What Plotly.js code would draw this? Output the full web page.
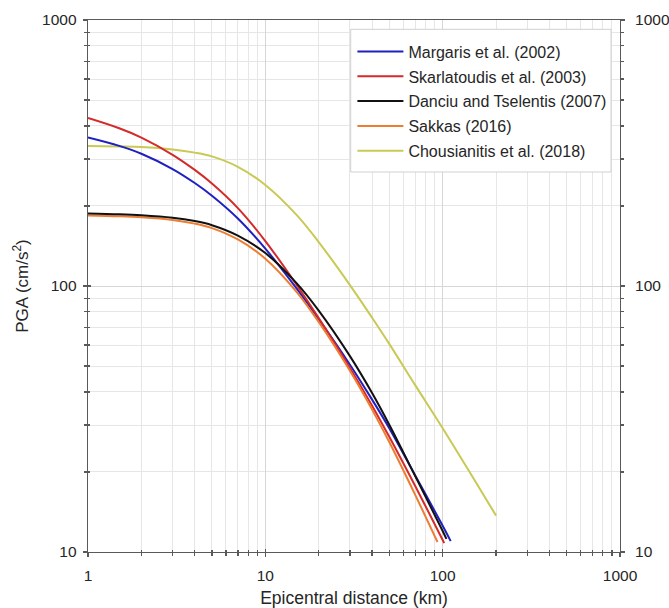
<!DOCTYPE html>
<html>
<head>
<meta charset="utf-8">
<script src="https://cdn.plot.ly/plotly-3.0.1.min.js"></script>
<style>html,body{margin:0;padding:0;background:#fff;}#chart{width:669px;height:608px;}</style>
</head>
<body>
<div id="chart"></div>
<script>
// Epicentral distance (km) and PGA (cm/s^2)
const distMargaris = [1, 1.5, 2, 3, 4, 5, 7, 10, 15, 20, 30, 40, 50, 70, 100, 111];
const pgaMargaris  = [361.6, 336.3, 314.3, 275.3, 243.9, 218.5, 179.4, 138.2, 97.9, 75.1, 50.6, 37.4, 29.2, 19.4, 12.56, 10.99];

const distSkarlatoudis = [1, 1.5, 2, 3, 4, 5, 7, 10, 15, 20, 30, 40, 50, 70, 100, 102];
const pgaSkarlatoudis  = [428.1, 391.6, 361.3, 311.4, 273.2, 242.9, 196.3, 147.6, 101.1, 75.8, 49.2, 35.5, 27.1, 17.7, 11.1, 10.8];

const distDanciu = [1, 1.5, 2, 3, 4, 5, 7, 10, 15, 20, 30, 40, 50, 70, 100, 105];
const pgaDanciu  = [187.3, 186.0, 184.4, 180.5, 175.4, 169.3, 154.7, 133.0, 102.5, 80.8, 54.5, 39.6, 30.1, 19.3, 11.99, 11.2];

const distSakkas = [1, 1.5, 2, 3, 4, 5, 7, 10, 15, 20, 30, 40, 50, 70, 93.5];
const pgaSakkas  = [184.1, 182.8, 181.2, 177.1, 171.6, 165.1, 149.6, 126.7, 95.1, 73.2, 48.0, 34.3, 25.9, 16.4, 10.9];

const distChousianitis = [1, 1.5, 2, 3, 4, 5, 7, 10, 15, 20, 30, 40, 50, 70, 100, 150, 200];
const pgaChousianitis  = [336.0, 334.6, 332.8, 326.0, 317.3, 307.1, 280.6, 239.9, 185.1, 146.3, 100.8, 76.0, 60.6, 42.4, 29.2, 18.8, 13.7];

const seriesNames = ["Margaris et al. (2002)", "Skarlatoudis et al. (2003)", "Danciu and Tselentis (2007)", "Sakkas (2016)", "Chousianitis et al. (2018)"];
const xTickVals = [1, 10, 100, 1000];
const xTickText = ["1", "10", "100", "1000"];
const yTickVals = [10, 100, 1000];
const yTickText = ["10", "100", "1000"];

const FONT = "Liberation Sans, Arial, sans-serif";
const TXT = "#262626";

function mk(x, y, name, color, rank) {
  return {
    x: x, y: y, name: name, type: "scatter", mode: "lines",
    line: {color: color, width: 2, shape: "spline", smoothing: 1},
    legendgroup: name, legendrank: rank, hoverinfo: "skip"
  };
}

const traces = [
  mk(distChousianitis, pgaChousianitis, seriesNames[4], "#c9c955", 5),
  mk(distMargaris, pgaMargaris, seriesNames[0], "#2020c0", 1),
  mk(distSkarlatoudis, pgaSkarlatoudis, seriesNames[1], "#d42a2a", 2),
  mk(distSakkas, pgaSakkas, seriesNames[3], "#ed7d31", 4),
  mk(distDanciu, pgaDanciu, seriesNames[2], "#111111", 3),
  {x: [1], y: [10], yaxis: "y2", type: "scatter", mode: "markers", marker: {opacity: 0}, showlegend: false, hoverinfo: "skip"},
  {x: [1], y: [10], xaxis: "x2", yaxis: "y3", type: "scatter", mode: "markers", marker: {opacity: 0}, showlegend: false, hoverinfo: "skip"}
];

const axLine = "#595959";
const layout = {
  width: 669, height: 608,
  margin: {l: 88, r: 49, t: 20, b: 56, pad: 0},
  paper_bgcolor: "#fff", plot_bgcolor: "#fff",
  font: {family: FONT, size: 15.5, color: TXT},
  showlegend: true,
  legend: {
    x: 0.497, y: 0.9726, xanchor: "left", yanchor: "top",
    bgcolor: "rgba(0,0,0,0)", borderwidth: 0,
    font: {family: FONT, size: 16, color: TXT},
    traceorder: "grouped", tracegroupgap: 1, itemwidth: 46
  },
  shapes: [{
    type: "rect", xref: "paper", yref: "paper", layer: "above",
    x0: 0.4938, x1: 0.9831, y0: 0.7143, y1: 0.9825,
    line: {color: "#d0d0d0", width: 1}, fillcolor: "#ffffff"
  }],
  xaxis: {
    type: "log", range: [0, 3], tickvals: xTickVals, ticktext: xTickText,
    showline: true, linecolor: axLine, linewidth: 1.3, mirror: true,
    ticks: "outside", ticklen: 4, tickcolor: axLine, tickwidth: 1.3,
    showgrid: true, gridcolor: "#d6d6d6", gridwidth: 1,
    minor: {dtick: "D1", ticks: "outside", ticklen: 3, tickcolor: axLine, showgrid: true, gridcolor: "#e6e6e6", gridwidth: 1},
    zeroline: false, tickfont: {family: FONT, size: 15.5, color: TXT}, ticklabelstandoff: 5,
    title: {text: "Epicentral distance (km)", font: {family: FONT, size: 17.5, color: TXT}, standoff: 10},
    automargin: false
  },
  xaxis2: {
    type: "log", range: [0, 3], overlaying: "x", side: "bottom", anchor: "y",
    tickvals: xTickVals, showticklabels: false, showgrid: false, zeroline: false, showline: false,
    ticks: "inside", ticklen: 3, tickcolor: axLine, tickwidth: 1.3,
    minor: {dtick: "D1", ticks: "inside", ticklen: 2, tickcolor: axLine, showgrid: false}
  },
  yaxis: {
    type: "log", range: [1, 3], tickvals: yTickVals, ticktext: yTickText,
    showline: true, linecolor: axLine, linewidth: 1.3, mirror: true,
    ticks: "outside", ticklen: 4, tickcolor: axLine, tickwidth: 1.3,
    showgrid: true, gridcolor: "#d6d6d6", gridwidth: 1,
    minor: {dtick: "D1", ticks: "outside", ticklen: 3, tickcolor: axLine, showgrid: true, gridcolor: "#e6e6e6", gridwidth: 1},
    zeroline: false, tickfont: {family: FONT, size: 15.5, color: TXT}, ticklabelstandoff: 3,
    title: {text: "PGA (cm/s<sup>2</sup>)", font: {family: FONT, size: 17, color: TXT}, standoff: 9},
    automargin: false
  },
  yaxis2: {
    type: "log", range: [1, 3], overlaying: "y", side: "right", anchor: "x",
    tickvals: yTickVals, ticktext: yTickText, showgrid: false, zeroline: false, showline: false,
    ticks: "outside", ticklen: 4, tickcolor: axLine, tickwidth: 1.3, ticklabelstandoff: 7,
    minor: {dtick: "D1", ticks: "outside", ticklen: 3, tickcolor: axLine, showgrid: false},
    tickfont: {family: FONT, size: 15.5, color: TXT}, automargin: false
  },
  yaxis3: {
    type: "log", range: [1, 3], overlaying: "y", side: "left", anchor: "x",
    tickvals: yTickVals, showticklabels: false, showgrid: false, zeroline: false, showline: false,
    ticks: "inside", ticklen: 3, tickcolor: axLine, tickwidth: 1.3,
    minor: {dtick: "D1", ticks: "inside", ticklen: 2, tickcolor: axLine, showgrid: false}
  }
};

Plotly.newPlot("chart", traces, layout, {staticPlot: true, displayModeBar: false});
</script>
</body>
</html>
